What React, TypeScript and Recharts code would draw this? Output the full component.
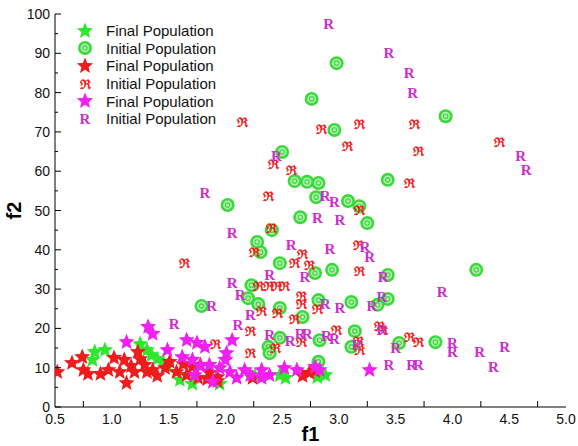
import { Legend, Scatter, ScatterChart, XAxis, YAxis } from "recharts";

const GREEN = "#2ee82e";
const GREEN_RING = "#3cd83c";
const RED = "#ee1c1c";
const MAGENTA = "#f020f0";
const MAGENTA_R = "#cc2ecc";
const FONT = "'Liberation Sans', Arial, sans-serif";

// axis ticks: labels every 0.5, small marks on the quarter values in between
const F1_TICKS = [0.5, 0.75, 1.0, 1.25, 1.5, 1.75, 2.0, 2.25, 2.5, 2.75, 3.0, 3.25, 3.5, 3.75, 4.0, 4.25, 4.5, 4.75, 5.0];
const F1_TOP_TICKS = [1.0, 1.5, 2.0, 2.5, 3.0, 3.5, 4.0, 4.5];
const F2_TICKS = [0, 5, 10, 15, 20, 25, 30, 35, 40, 45, 50, 55, 60, 65, 70, 75, 80, 85, 90, 95, 100];
const F2_RIGHT_TICKS = [10, 20, 30, 40, 50, 60, 70, 80, 90];

// [f1, f2]
const greenFinal: [number, number][] = [
  [0.85, 14.0], [0.94, 14.5], [0.83, 12.0], [1.25, 16.0], [1.31, 14.5], [1.35, 13.2],
  [1.4, 12.2], [1.45, 11.5], [1.49, 10.4], [1.71, 5.9], [1.6, 6.9], [1.95, 5.9],
  [2.26, 7.9], [2.48, 8.1], [2.53, 7.4], [2.81, 7.6], [2.88, 8.1],
];
const greenInitial: [number, number][] = [
  [2.98, 87.5], [2.76, 78.4], [2.96, 70.5], [3.94, 74.0], [2.5, 64.9], [2.61, 57.5],
  [2.72, 57.3], [2.82, 57.0], [3.43, 57.8], [2.8, 53.4], [3.08, 52.4], [3.18, 51.1],
  [3.25, 46.8], [2.66, 48.3], [2.02, 51.4], [2.41, 45.0], [2.28, 42.0], [2.31, 39.4],
  [2.48, 36.6], [2.94, 34.9], [2.79, 34.1], [3.43, 33.6], [3.43, 27.5], [3.34, 26.0],
  [3.53, 16.3], [3.85, 16.5], [4.21, 34.9], [2.23, 31.0], [2.2, 27.7], [2.29, 26.2],
  [2.48, 25.2], [2.68, 22.9], [2.82, 27.2], [3.11, 26.7], [1.79, 25.7], [3.14, 19.3],
  [3.11, 15.3], [2.48, 17.6], [2.38, 15.3], [2.39, 13.7], [2.82, 11.5], [2.83, 17.0],
];
const redFinal: [number, number][] = [
  [0.52, 8.9], [0.65, 11.2], [0.74, 12.7], [0.75, 9.4], [0.79, 8.4], [0.9, 8.4],
  [0.97, 9.4], [1.02, 12.5], [1.13, 6.1], [1.11, 12.0], [1.17, 10.4], [1.23, 14.0],
  [1.25, 12.2], [1.2, 8.9], [1.07, 8.9], [1.31, 8.9], [1.36, 9.4], [1.29, 10.7],
  [1.4, 7.9], [1.47, 9.9], [1.51, 11.5], [1.57, 8.9], [1.63, 10.9], [1.66, 8.1],
  [1.71, 10.2], [1.76, 7.4], [1.78, 10.7], [1.86, 8.7], [1.93, 7.6], [1.84, 7.1],
  [1.93, 6.6], [2.24, 7.4], [2.68, 7.9], [2.74, 8.7], [2.79, 9.2],
];
const redInitial: [number, number][] = [
  [2.15, 72.3], [2.85, 70.7], [3.18, 72.0], [3.67, 71.8], [3.08, 66.2], [3.7, 65.1],
  [4.41, 67.2], [2.42, 61.6], [2.58, 60.3], [2.38, 53.7], [3.62, 57.0], [3.18, 49.9],
  [2.41, 45.5], [2.26, 39.2], [2.68, 38.7], [2.61, 36.4], [2.74, 36.1], [3.17, 41.0],
  [3.18, 34.4], [1.64, 36.6], [2.29, 30.8], [2.38, 30.8], [2.45, 30.8], [2.52, 30.8],
  [2.67, 28.2], [2.67, 26.2], [2.32, 24.4], [2.46, 23.7], [2.61, 22.4], [2.81, 24.9],
  [2.22, 19.1], [2.44, 15.0], [2.67, 16.5], [2.98, 19.6], [3.17, 16.8], [3.18, 14.5],
  [1.91, 15.8], [2.22, 13.5], [3.36, 20.6], [3.38, 19.6], [3.62, 17.8], [3.7, 16.3],
];
const magentaFinal: [number, number][] = [
  [1.32, 20.4], [1.36, 18.6], [1.13, 16.5], [1.66, 17.0], [1.75, 16.3], [1.82, 15.3],
  [2.06, 17.0], [2.01, 13.7], [1.49, 14.5], [1.62, 12.7], [1.71, 12.0], [1.78, 10.4],
  [1.86, 10.7], [1.95, 9.9], [2.04, 8.9], [2.1, 7.4], [1.89, 6.4], [2.22, 8.1],
  [2.32, 9.4], [2.39, 8.1], [2.32, 7.4], [2.52, 9.9], [2.63, 9.4], [2.79, 10.2],
  [2.83, 9.4], [3.27, 9.4], [2.0, 12.0], [2.17, 9.4], [1.73, 8.1],
];
const magentaInitial: [number, number][] = [
  [2.91, 97.5], [3.44, 90.3], [3.62, 85.0], [3.65, 79.9], [4.6, 63.9], [4.65, 60.3],
  [2.45, 63.9], [1.82, 54.5], [2.88, 53.7], [2.96, 52.2], [2.81, 48.1], [3.01, 47.6],
  [2.06, 44.5], [2.58, 41.2], [2.92, 40.2], [3.23, 40.7], [3.27, 38.2], [2.39, 33.8],
  [2.7, 33.3], [3.39, 33.3], [2.06, 31.6], [2.13, 28.5], [1.88, 25.7], [3.91, 29.3],
  [3.38, 28.0], [3.29, 25.7], [3.38, 19.6], [3.5, 15.0], [4.0, 16.3], [4.0, 14.0],
  [4.24, 14.0], [4.46, 15.3], [3.44, 10.9], [3.64, 10.7], [3.7, 10.7], [4.36, 10.4],
  [2.22, 23.4], [2.11, 20.9], [2.39, 18.3], [2.57, 17.0], [2.66, 18.8], [2.72, 18.8],
  [2.89, 18.1], [2.96, 17.3], [3.01, 25.2], [2.88, 26.2], [1.55, 21.1], [3.16, 15.8],
];

type Kind = "star" | "ring" | "fraktur" | "roman";

const SERIES: { name: string; kind: Kind; color: string; data: [number, number][] }[] = [
  { name: "Final Population", kind: "star", color: GREEN, data: greenFinal },
  { name: "Initial Population", kind: "ring", color: GREEN_RING, data: greenInitial },
  { name: "Final Population", kind: "star", color: RED, data: redFinal },
  { name: "Initial Population", kind: "fraktur", color: RED, data: redInitial },
  { name: "Final Population", kind: "star", color: MAGENTA, data: magentaFinal },
  { name: "Initial Population", kind: "roman", color: MAGENTA_R, data: magentaInitial },
];

function starPoints(cx: number, cy: number, ro: number, ri: number) {
  const pts: string[] = [];
  for (let i = 0; i < 10; i++) {
    const r = i % 2 === 0 ? ro : ri;
    const a = -Math.PI / 2 + (i * Math.PI) / 5;
    pts.push(`${cx + r * Math.cos(a)},${cy + r * Math.sin(a)}`);
  }
  return pts.join(" ");
}

function Marker({ kind, color, cx, cy }: { kind: Kind; color: string; cx: number; cy: number }) {
  if (kind === "star") return <polygon points={starPoints(cx, cy, 8.5, 3.8)} fill={color} />;
  if (kind === "ring")
    return (
      <g>
        <circle cx={cx} cy={cy} r={7} fill={color} />
        <circle cx={cx} cy={cy} r={4.4} fill="#b4f2b4" />
        <circle cx={cx} cy={cy} r={2.2} fill="none" stroke={color} strokeWidth={1.2} />
      </g>
    );
  if (kind === "fraktur")
    return (
      <text x={cx} y={cy} dy="0.35em" textAnchor="middle" fill={color}
        style={{ fontFamily: "'DejaVu Serif', serif", fontSize: 13, fontWeight: 700 }}>
        ℜ
      </text>
    );
  return (
    <text x={cx} y={cy} dy="0.36em" textAnchor="middle" fill={color}
      style={{ fontFamily: "'Liberation Serif', serif", fontSize: 15, fontWeight: 700 }}>
      R
    </text>
  );
}

function BottomTick(props: any) {
  const { x, y, payload } = props;
  const v = payload.value as number;
  if (Math.abs(v * 2 - Math.round(v * 2)) < 1e-6)
    return (
      <text x={x} y={y + 17} textAnchor="middle" fill="#111" style={{ fontFamily: FONT, fontSize: 14 }}>
        {v.toFixed(1)}
      </text>
    );
  return <line x1={x} x2={x} y1={y} y2={y - 6} stroke="#000" />;
}

function LeftTick(props: any) {
  const { x, y, payload } = props;
  const v = payload.value as number;
  const major = v % 10 === 0;
  return (
    <g>
      <line x1={x} x2={x + (major ? 6 : 3)} y1={y} y2={y} stroke="#000" />
      {major && (
        <text x={x - 5} y={y} dy="0.36em" textAnchor="end" fill="#111" style={{ fontFamily: FONT, fontSize: 14 }}>
          {v}
        </text>
      )}
    </g>
  );
}

const TopTick = ({ x, y }: any) => <line x1={x} x2={x} y1={y} y2={y + 6} stroke="#000" />;
const RightTick = ({ x, y }: any) => <line x1={x} x2={x - 6} y1={y} y2={y} stroke="#000" />;

function LegendBox() {
  return (
    <div style={{ fontFamily: FONT, fontSize: 15, color: "#111" }}>
      {SERIES.map((s, i) => (
        <div key={i} style={{ display: "flex", alignItems: "center", height: 17.6 }}>
          <svg width={18} height={18} style={{ marginRight: 12 }}>
            <Marker kind={s.kind} color={s.color} cx={9} cy={9} />
          </svg>
          <span>{s.name}</span>
        </div>
      ))}
    </div>
  );
}

export default function App() {
  return (
    <div style={{ position: "absolute", left: 0, top: 0, width: 578, height: 446, background: "#fff" }}>
      <ScatterChart width={578} height={446} margin={{ top: 14, right: 12, bottom: 9, left: 10 }}>
        <XAxis
          type="number"
          dataKey="x"
          domain={[0.5, 5]}
          ticks={F1_TICKS}
          interval={0}
          tick={<BottomTick />}
          tickLine={false}
          tickSize={0}
          tickMargin={0}
          height={30}
          axisLine={{ stroke: "#000" }}
          allowDataOverflow
          label={{ value: "f1", position: "insideBottom", offset: -4, style: { fontFamily: FONT, fontSize: 20, fontWeight: 700, fill: "#000" } }}
        />
        <XAxis
          xAxisId="top"
          orientation="top"
          type="number"
          domain={[0.5, 5]}
          ticks={F1_TOP_TICKS}
          interval={0}
          tick={<TopTick />}
          tickLine={false}
          tickSize={0}
          tickMargin={0}
          height={0}
          axisLine={{ stroke: "#000" }}
        />
        <YAxis
          type="number"
          dataKey="y"
          domain={[0, 100]}
          ticks={F2_TICKS}
          interval={0}
          tick={<LeftTick />}
          tickLine={false}
          tickSize={0}
          tickMargin={0}
          width={45}
          axisLine={{ stroke: "#000" }}
          allowDataOverflow
          label={{ value: "f2", angle: -90, position: "insideLeft", offset: 4, style: { fontFamily: FONT, fontSize: 20, fontWeight: 700, fill: "#000", textAnchor: "middle" } }}
        />
        <YAxis
          yAxisId="right"
          orientation="right"
          type="number"
          domain={[0, 100]}
          ticks={F2_RIGHT_TICKS}
          interval={0}
          tick={<RightTick />}
          tickLine={false}
          tickSize={0}
          tickMargin={0}
          width={0}
          axisLine={{ stroke: "#000" }}
        />
        <Legend
          layout="vertical"
          align="center"
          verticalAlign="middle"
          wrapperStyle={{ left: 76, top: 22, width: 180 }}
          content={() => <LegendBox />}
        />
        {SERIES.map((s, i) => (
          <Scatter
            key={i}
            name={s.name}
            data={s.data.map(([x, y]) => ({ x, y }))}
            fill={s.color}
            isAnimationActive={false}
            shape={(p: any) => <Marker kind={s.kind} color={s.color} cx={p.cx} cy={p.cy} />}
          />
        ))}
      </ScatterChart>
    </div>
  );
}
